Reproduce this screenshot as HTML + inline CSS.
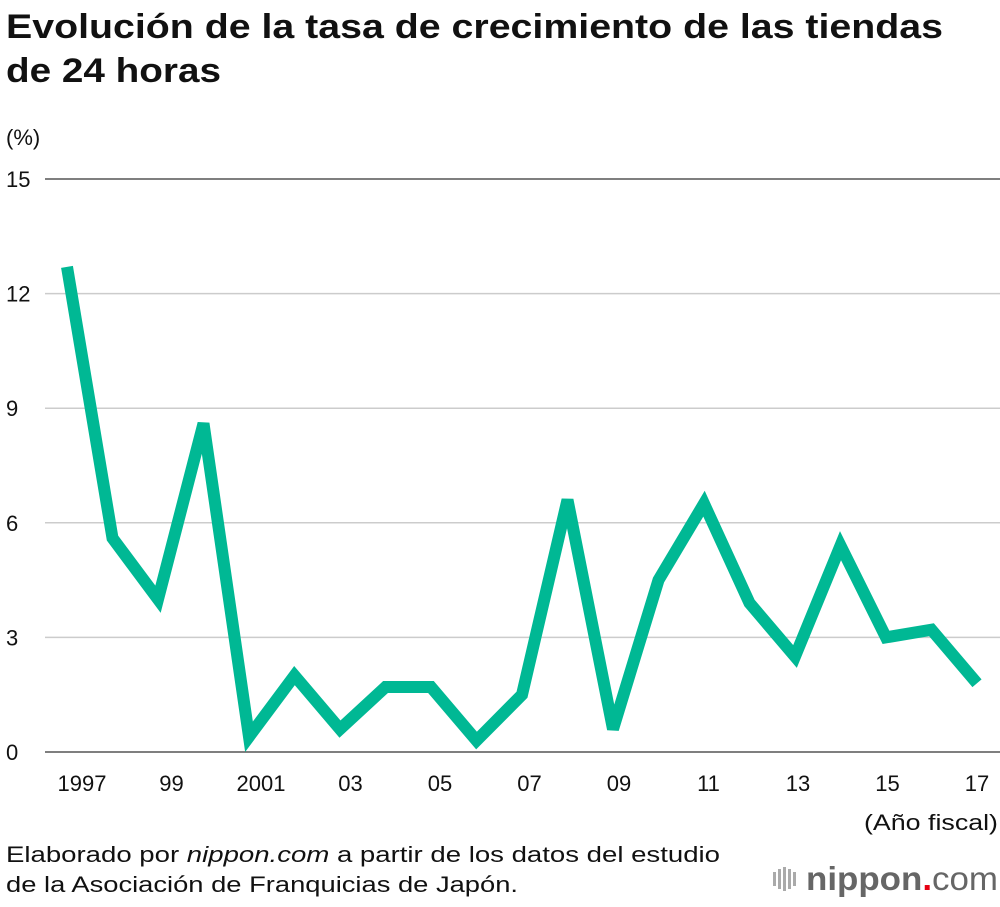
<!DOCTYPE html>
<html><head><meta charset="utf-8"><style>
body{margin:0;width:1000px;height:902px;background:#fff;font-family:"Liberation Sans",sans-serif;overflow:hidden}
svg text{font-family:"Liberation Sans",sans-serif}
</style></head><body>
<svg id="c" width="1000" height="902">
<text x="6" y="38" font-size="34" font-weight="bold" fill="#111" textLength="937" lengthAdjust="spacingAndGlyphs">Evolución de la tasa de crecimiento de las tiendas</text>
<text x="6" y="82" font-size="34" font-weight="bold" fill="#111" textLength="215" lengthAdjust="spacingAndGlyphs">de 24 horas</text>
<text x="6" y="145" font-size="22" fill="#111">(%)</text>
<g id="grid"></g><g id="xt"></g>
<text x="998" y="830" font-size="22" fill="#111" text-anchor="end" textLength="134" lengthAdjust="spacingAndGlyphs">(Año fiscal)</text>
<text x="6" y="862" font-size="22" fill="#111" textLength="714" lengthAdjust="spacingAndGlyphs">Elaborado por <tspan font-style="italic">nippon.com</tspan> a partir de los datos del estudio</text>
<text x="6" y="892" font-size="22" fill="#111" textLength="512" lengthAdjust="spacingAndGlyphs">de la Asociación de Franquicias de Japón.</text>
<g>
<g fill="#aaa"><rect x="773" y="872" width="3" height="14"/><rect x="778" y="869" width="3" height="20"/><rect x="783" y="867" width="3" height="24"/><rect x="788" y="869" width="3" height="20"/><rect x="793" y="872" width="3" height="14"/></g>
<text x="806" y="890" font-size="33" font-family="DejaVu Sans" fill="#666" font-weight="bold" textLength="192" lengthAdjust="spacingAndGlyphs">nippon<tspan fill="#e60012">.</tspan><tspan font-weight="normal">com</tspan></text>
</g>
</svg>
<script>
const years=[1997,1998,1999,2000,2001,2002,2003,2004,2005,2006,2007,2008,2009,2010,2011,2012,2013,2014,2015,2016,2017];
const values=[12.7,5.6,4.0,8.6,0.4,2.0,0.6,1.7,1.7,0.3,1.5,6.6,0.6,4.5,6.5,3.9,2.5,5.4,3.0,3.2,1.8];
const yTicks=[0,3,6,9,12,15];
const xLabels=["1997","99","2001","03","05","07","09","11","13","15","17"];
const NS="http://www.w3.org/2000/svg";
const svg=document.getElementById('c');
const x=y=>67+(y-1997)*45.5;
const yS=v=>752-v*(573/15);
const grid=document.getElementById('grid');
yTicks.forEach(t=>{
 const l=document.createElementNS(NS,'line');
 l.setAttribute('x1',45);l.setAttribute('x2',1000);l.setAttribute('y1',yS(t));l.setAttribute('y2',yS(t));
 l.setAttribute('stroke',t===0||t===15?'#555':'#ccc');l.setAttribute('stroke-width',1.5);
 
 
 grid.appendChild(l);
 const tx=document.createElementNS(NS,'text');
 tx.setAttribute('x',6);tx.setAttribute('y',yS(t)+8);tx.setAttribute('font-size',22);tx.setAttribute('fill','#111');
 tx.textContent=t;
 
 
 grid.appendChild(tx);
});
const xt=document.getElementById('xt');
xLabels.forEach((s,i)=>{
 const tx=document.createElementNS(NS,'text');
 tx.setAttribute('x',82+i*89.5);tx.setAttribute('y',791);tx.setAttribute('font-size',22);tx.setAttribute('fill','#111');tx.setAttribute('text-anchor','middle');
 tx.textContent=s;
 
 
 xt.appendChild(tx);
});
const p=document.createElementNS(NS,'polyline');
p.setAttribute('points',years.map((y,i)=>x(y)+','+yS(values[i])).join(' '));
p.setAttribute('fill','none');p.setAttribute('stroke','#00b894');p.setAttribute('stroke-width',12);p.setAttribute('stroke-linejoin','miter');p.setAttribute('stroke-miterlimit','3');


svg.appendChild(p);
</script>
</body></html>
